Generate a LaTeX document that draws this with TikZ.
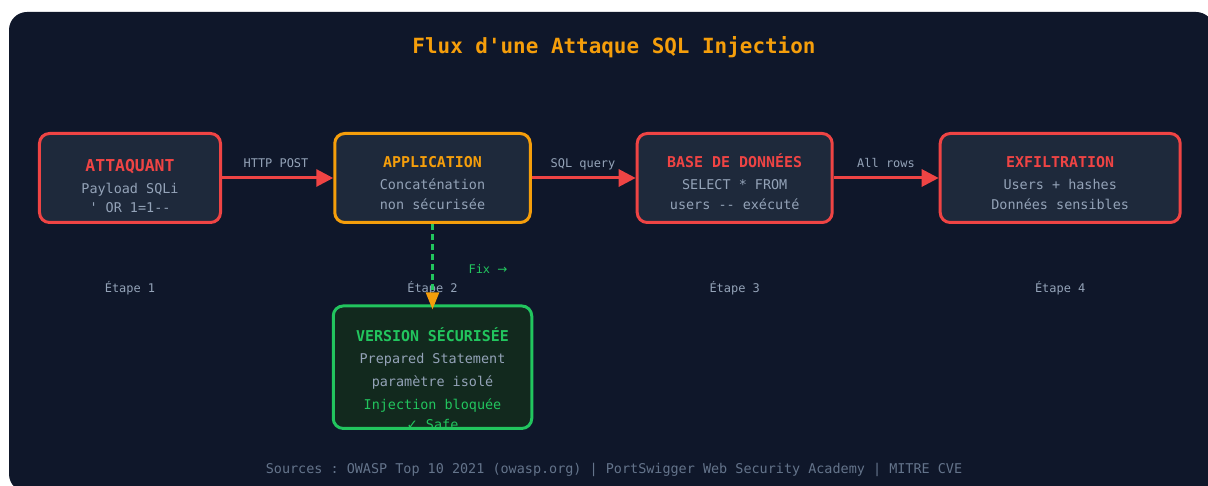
\documentclass[tikz,border=0pt]{standalone}
\usepackage{fontspec}
\setmainfont{DejaVu Sans Mono}[Ligatures=TeXOff]
\newfontfamily\symfont{DejaVu Sans}
\usetikzlibrary{arrows.meta}
\frenchspacing

\definecolor{cardbg}{HTML}{0F172A}
\definecolor{boxbg}{HTML}{1E293B}
\definecolor{safebg}{HTML}{12291E}
\definecolor{alertred}{HTML}{EF4444}
\definecolor{warnorange}{HTML}{F59E0B}
\definecolor{okgreen}{HTML}{22C55E}
\definecolor{muted}{HTML}{94A3B8}
\definecolor{dimtext}{HTML}{64748B}

\newcommand{\fs}[1]{\fontsize{#1}{#1}\selectfont}

\tikzset{
  x=1bp, y=-1bp,
  stagebox/.style={line width=3bp, rounded corners=10bp, fill=boxbg, inner sep=0pt},
  txt/.style={inner sep=0pt, anchor=base},
  boxtitle/.style={txt, font=\fs{15}\bfseries},
  boxline/.style={txt, font=\fs{13.5}, text=muted},
  smalllabel/.style={txt, font=\fs{12}, text=muted},
  flow/.style={draw=alertred, line width=3bp, -{Triangle[length=17bp, width=17bp]}},
}

\begin{document}
\begin{tikzpicture}
  % page and card
  \fill[white] (0,0) rectangle (1208,486);
  \useasboundingbox (0,0) rectangle (1208,486);
  \fill[cardbg, rounded corners=18bp] (9,12) rectangle (1214,492);

  % heading
  \node[txt, font=\fs{21}\bfseries, text=warnorange] (heading) at (614,54) {Flux d'une Attaque SQL Injection};

  % stage boxes
  \node[stagebox, draw=alertred, minimum width=181bp, minimum height=89bp] (att) at (130,178) {};
  \node[stagebox, draw=warnorange, minimum width=195.5bp, minimum height=89bp] (app) at (432.5,178) {};
  \node[stagebox, draw=alertred, minimum width=195bp, minimum height=89bp] (db) at (734.7,178) {};
  \node[stagebox, draw=alertred, minimum width=240bp, minimum height=89bp] (exf) at (1060.2,178) {};

  % stage 1 text
  \node[txt, font=\fs{16.5}\bfseries, text=alertred] (attT) at (130,171.2) {ATTAQUANT};
  \node[boxline] (attA) at (130,193.9) {Payload SQLi};
  \node[boxline] (attB) at (130,212.9) {' OR 1=1--};

  % stage 2 text
  \node[boxtitle, text=warnorange] (appT) at (432.5,167.6) {APPLICATION};
  \node[boxline] (appA) at (432.5,189.9) {Concaténation};
  \node[boxline] (appB) at (432.5,209.6) {non sécurisée};

  % stage 3 text
  \node[boxtitle, text=alertred] (dbT) at (734.7,167.6) {BASE DE DONNÉES};
  \node[boxline] (dbA) at (734.7,189.9) {SELECT * FROM};
  \node[boxline] (dbB) at (734.7,209.6) {users -- exécuté};

  % stage 4 text
  \node[boxtitle, text=alertred] (exfT) at (1060.2,167.6) {EXFILTRATION};
  \node[boxline] (exfA) at (1060.2,189.9) {Users + hashes};
  \node[boxline] (exfB) at (1060.2,209.6) {Données sensibles};

  % main flow
  \draw[flow] (att.east) -- (app.west);
  \draw[flow] (app.east) -- (db.west);
  \draw[flow] (db.east) -- (exf.west);
  \node[smalllabel] (l1) at (276,167.6) {HTTP POST};
  \node[smalllabel] (l2) at (583,167.6) {SQL query};
  \node[smalllabel] (l3) at (886,167.6) {All rows};

  % step captions
  \node[smalllabel] (s1) at (130,292.4) {Étape 1};
  \node[smalllabel] (s3) at (734.7,292.4) {Étape 3};
  \node[smalllabel] (s4) at (1060.2,292.4) {Étape 4};

  % secure version box, text clipped to its inside
  \node[stagebox, fill=safebg, minimum width=195.5bp, minimum height=119.5bp] (safe) at (432.5,367.2) {};
  \begin{scope}
    \clip[rounded corners=10bp] (safe.south west) rectangle (safe.north east);
    \node[boxtitle, text=okgreen] (safeT) at (432.5,341.6) {VERSION SÉCURISÉE};
    \node[boxline] (safeA) at (432.5,363.9) {Prepared Statement};
    \node[boxline] (safeB) at (432.5,386.9) {paramètre isolé};
    \node[boxline, text=okgreen] (safeC) at (432.5,409.9) {Injection bloquée};
    \node[boxline, text=okgreen] (safeD) at (432.5,429.2) {{\symfont\fs{13.5}✓} Safe};
  \end{scope}
  \draw[okgreen, line width=3bp, rounded corners=10bp] (safe.south west) rectangle (safe.north east);

  % fix path
  \node[smalllabel] (s2) at (432.5,292.4) {Étape 2};
  \coordinate (fixend) at ([yshift=-3.5bp]safe.north);
  \draw[okgreen, line width=2.5bp, dash pattern=on 6bp off 4bp,
        -{Triangle[length=17bp, width=13bp, color=warnorange]}] (app.south) -- (fixend);
  \node[smalllabel, text=okgreen] (fix) at (488,274) {Fix {\symfont\fs{12}→}};

  % sources
  \node[txt, font=\fs{13.5}, text=dimtext] (src) at (614,473) {Sources : OWASP Top 10 2021 (owasp.org) | PortSwigger Web Security Academy | MITRE CVE};
\end{tikzpicture}
\end{document}
